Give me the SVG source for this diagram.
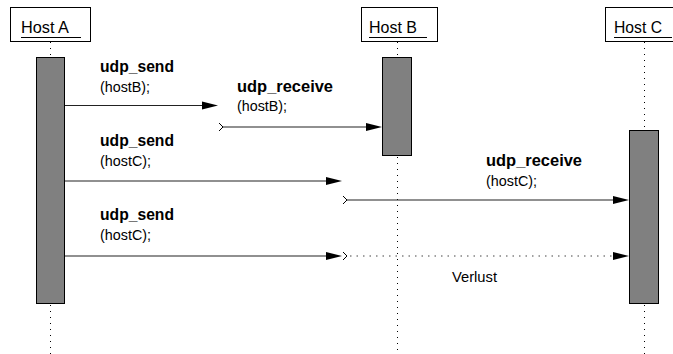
<svg xmlns="http://www.w3.org/2000/svg" width="673" height="354" viewBox="0 0 673 354">
<defs>
<style>
.box{fill:#fff;stroke:#000;stroke-width:1}
.hl{font-family:"Liberation Sans",Arial,sans-serif;font-size:17px;fill:#000}
.ul{stroke:#000;stroke-width:1}
.life{stroke:#000;stroke-width:1;stroke-dasharray:1 5;fill:none}
.bar{fill:#808080;stroke:#000;stroke-width:1}
.msg{stroke:#222;stroke-width:1.2;fill:none}
.lost{stroke:#444;stroke-width:1.2;stroke-dasharray:1.5 5;fill:none}
.b{font-family:"Liberation Sans",Arial,sans-serif;font-size:16.5px;font-weight:bold;fill:#000}
.n{font-family:"Liberation Sans",Arial,sans-serif;font-size:15px;fill:#000}
.head{fill:#000}
.chev{fill:none;stroke:#000;stroke-width:1}
</style>
</defs>
<g id="hostA">
<rect class="box" x="10.5" y="7.5" width="80" height="34"/>
<text class="hl" x="21" y="33" textLength="48" lengthAdjust="spacingAndGlyphs">Host A</text>
<line class="ul" x1="21" y1="37.5" x2="81" y2="37.5"/>
<line class="life" x1="50.5" y1="42" x2="50.5" y2="57"/>
<rect class="bar" x="36.5" y="57.5" width="28" height="246"/>
<line class="life" x1="50.5" y1="305" x2="50.5" y2="354"/>
</g>
<g id="hostB">
<rect class="box" x="361.5" y="7.5" width="76" height="34"/>
<text class="hl" x="369" y="33" textLength="48" lengthAdjust="spacingAndGlyphs">Host B</text>
<line class="ul" x1="369" y1="37.5" x2="427" y2="37.5"/>
<line class="life" x1="397.5" y1="42" x2="397.5" y2="57"/>
<rect class="bar" x="382.5" y="57.5" width="29" height="98"/>
<line class="life" x1="397.5" y1="157" x2="397.5" y2="354"/>
</g>
<g id="hostC">
<rect class="box" x="605.5" y="7.5" width="80" height="34"/>
<text class="hl" x="614" y="33" textLength="48" lengthAdjust="spacingAndGlyphs">Host C</text>
<line class="ul" x1="614" y1="37.5" x2="672" y2="37.5"/>
<line class="life" x1="644.5" y1="42" x2="644.5" y2="130"/>
<rect class="bar" x="629.5" y="130.5" width="29" height="173"/>
<line class="life" x1="644.5" y1="305" x2="644.5" y2="354"/>
</g>
<g id="connectors">
<line class="msg" x1="65" y1="105.5" x2="206" y2="105.5"/>
<polygon class="head" points="218,105.5 202,101.5 202,109.5"/>
<polyline class="chev" points="219,123 223,127 219,131"/>
<line class="msg" x1="223" y1="127" x2="370" y2="127"/>
<polygon class="head" points="382,127 366,123 366,131"/>
<line class="msg" x1="65" y1="181" x2="330" y2="181"/>
<polygon class="head" points="342,181 326,177 326,185"/>
<polyline class="chev" points="343,196 347,200 343,204"/>
<line class="msg" x1="347" y1="200" x2="617" y2="200"/>
<polygon class="head" points="629,200 613,196 613,204"/>
<line class="msg" x1="65" y1="256" x2="330" y2="256"/>
<polygon class="head" points="342,256 326,252 326,260"/>
<polyline class="chev" points="343,252 347,256 343,260"/>
<line class="lost" x1="350" y1="256" x2="614" y2="256"/>
<polygon class="head" points="629,256 613,252 613,260"/>
</g>
<g id="labels">
<text class="b" x="100" y="72" textLength="74" lengthAdjust="spacingAndGlyphs">udp_send</text>
<text class="n" x="100" y="92" textLength="50" lengthAdjust="spacingAndGlyphs">(hostB);</text>
<text class="b" x="237" y="92" textLength="96" lengthAdjust="spacingAndGlyphs">udp_receive</text>
<text class="n" x="237" y="111" textLength="50" lengthAdjust="spacingAndGlyphs">(hostB);</text>
<text class="b" x="100" y="146" textLength="74" lengthAdjust="spacingAndGlyphs">udp_send</text>
<text class="n" x="100" y="166" textLength="51" lengthAdjust="spacingAndGlyphs">(hostC);</text>
<text class="b" x="486" y="166" textLength="96" lengthAdjust="spacingAndGlyphs">udp_receive</text>
<text class="n" x="486" y="186" textLength="51" lengthAdjust="spacingAndGlyphs">(hostC);</text>
<text class="b" x="100" y="220" textLength="74" lengthAdjust="spacingAndGlyphs">udp_send</text>
<text class="n" x="100" y="240" textLength="51" lengthAdjust="spacingAndGlyphs">(hostC);</text>
<text class="n" x="452" y="282" textLength="45" lengthAdjust="spacingAndGlyphs">Verlust</text>
</g>
</svg>
